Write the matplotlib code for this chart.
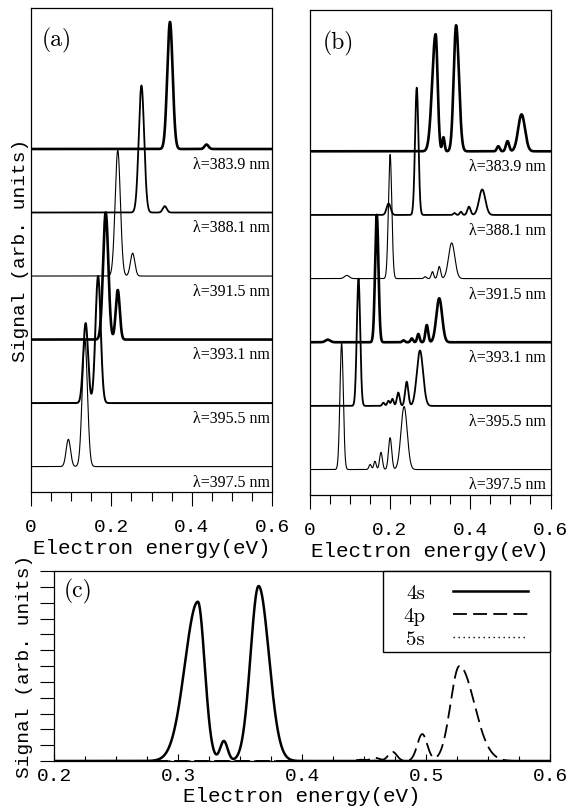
import numpy as np
import matplotlib
matplotlib.use("Agg")
import matplotlib.pyplot as plt
from matplotlib.patches import Rectangle
from matplotlib.ticker import MultipleLocator, FuncFormatter

plt.rcParams['font.family'] = ['Liberation Mono', 'DejaVu Sans Mono']
plt.rcParams['lines.scale_dashes'] = False
SERIF = ['Liberation Serif', 'DejaVu Serif']
CM = ['cmr10', 'DejaVu Serif']

# ---------------- data ----------------
wavelengths = ["383.9", "388.1", "391.5", "393.1", "395.5", "397.5"]
offsets = [5.4, 4.4, 3.4, 2.4, 1.4, 0.4]

# panel (a): peak centres (eV), heights (arb.), widths (sigma, eV)
a_centers = [[0.346, 0.437], [0.275, 0.333], [0.216, 0.253],
             [0.186, 0.216], [0.136, 0.167], [0.093, 0.134]]
a_heights = [[2.0, 0.07], [2.0, 0.10], [1.98, 0.36],
             [2.0, 0.78], [1.26, 2.0], [0.43, 2.0]]
a_widths = [[0.0067, 0.005], [0.0067, 0.005], [0.0065, 0.0055],
            [0.0065, 0.005], [0.006, 0.0065], [0.0055, 0.0065]]
a_lw = [1.9, 1.3, 0.8, 1.9, 1.4, 0.8]

# panel (b)
b_centers = [[0.314, 0.3335, 0.365, 0.470, 0.493, 0.528],
             [0.197, 0.267, 0.361, 0.377, 0.397, 0.430],
             [0.093, 0.2007, 0.288, 0.306, 0.323, 0.354],
             [0.0456, 0.1675, 0.234, 0.2546, 0.271, 0.292, 0.323],
             [0.122, 0.184, 0.1965, 0.2065, 0.221, 0.242, 0.275],
             [0.080, 0.151, 0.163, 0.178, 0.2007, 0.2355]]
b_heights = [[1.84, 0.22, 1.98, 0.08, 0.16, 0.58],
             [0.18, 2.0, 0.03, 0.05, 0.13, 0.40],
             [0.05, 1.95, 0.03, 0.11, 0.19, 0.56],
             [0.04, 2.0, 0.03, 0.06, 0.13, 0.27, 0.69],
             [2.0, 0.05, 0.08, 0.11, 0.21, 0.38, 0.87],
             [1.98, 0.08, 0.13, 0.27, 0.50, 0.99]]
b_widths = [[(0.0085, 0.005), 0.0028, (0.006, 0.007), 0.0035, 0.004, 0.0085],
            [0.005, 0.0042, 0.003, 0.003, 0.004, 0.0078],
            [0.006, 0.0042, 0.003, 0.003, 0.0035, 0.0078],
            [0.006, 0.0042, 0.003, 0.003, 0.003, 0.0035, 0.0072],
            [0.0042, 0.003, 0.003, 0.003, 0.0035, 0.004, 0.0078],
            [0.0042, 0.003, 0.003, 0.0035, 0.004, 0.0078]]
b_lw = [1.9, 1.3, 0.8, 1.9, 1.3, 0.8]

# panel (c)
s4_centers = [0.316, 0.337, 0.365]
s4_heights = [10.06, 1.26, 11.05]
s4_widths = [(0.0105, 0.0055), 0.003, (0.0065, 0.0083)]
p4_centers = [0.447, 0.459, 0.473, 0.497, 0.527]
p4_heights = [0.08, 0.2, 0.58, 1.7, 6.0]
p4_widths = [0.004, 0.0035, 0.0035, 0.004, (0.0072, 0.0119)]
s5_centers = [0.46]
s5_heights = [0.04]
s5_widths = [0.006]


def peak(E, c, h, w):
    wl, wr = (w, w) if np.ndim(w) == 0 else w
    s = np.where(E < c, wl, wr)
    return h * np.exp(-0.5 * ((E - c) / s) ** 2)


def spectrum(E, cs, hs, ws):
    return sum(peak(E, c, h, w) for c, h, w in zip(cs, hs, ws))


W, H = 567, 812
fig = plt.figure(figsize=(W / 100, H / 100), dpi=100)


def rect(l, t, r, b):
    return [l / W, 1 - b / H, (r - l) / W, (b - t) / H]


axa = fig.add_axes(rect(31, 9, 272, 493))
axb = fig.add_axes(rect(309.5, 11, 550.5, 496))
axc = fig.add_axes(rect(54, 572, 550, 762))

E = np.linspace(0, 0.6, 4001)
fmt = FuncFormatter(lambda v, p: "0" if abs(v) < 1e-9 else f"{v:.1f}")

for ax, cs, hs, ws, lws, labx, tag, tagpos in [
        (axa, a_centers, a_heights, a_widths, a_lw, 0.992, "(a)", (0.108, 0.936)),
        (axb, b_centers, b_heights, b_widths, b_lw, 0.981, "(b)", (0.118, 0.934))]:
    for i in range(6):
        y = offsets[i] + spectrum(E, cs[i], hs[i], ws[i])
        ax.plot(E, y, color='k', lw=lws[i], solid_joinstyle='round')
        ax.text(labx, offsets[i] - 0.235, f"λ={wavelengths[i]} nm",
                transform=ax.get_yaxis_transform(), ha='right', va='center',
                fontsize=11.5, family=SERIF)
    ax.set_xlim(0, 0.6)
    ax.set_ylim(0, 7.62)
    ax.set_yticks([])
    ax.xaxis.set_major_locator(MultipleLocator(0.2))
    ax.xaxis.set_minor_locator(MultipleLocator(0.05))
    ax.xaxis.set_major_formatter(fmt)
    ax.tick_params(axis='x', which='major', direction='out', length=10,
                   width=0.8, pad=8.5, labelsize=14)
    ax.tick_params(axis='x', which='minor', direction='out', length=6.5, width=0.8)
    ax.set_xlabel("Electron energy(eV)", fontsize=15, labelpad=2.5)
    for s in ax.spines.values():
        s.set_linewidth(0.9)
    ax.text(tagpos[0], tagpos[1], tag, transform=ax.transAxes, ha='center',
            va='center', fontsize=17, family=CM)

fig.text(21 / W, 1 - 250 / H, "Signal (arb. units)", rotation=90,
         ha='center', va='center', fontsize=14)

# panel (c)
Ec = np.linspace(0.2, 0.6, 4001)
axc.plot(Ec, spectrum(Ec, s4_centers, s4_heights, s4_widths), color='k',
         lw=1.8, label='4s')
axc.plot(Ec, spectrum(Ec, p4_centers, p4_heights, p4_widths), color='k',
         lw=1.3, ls=(0, (10, 4.5)), label='4p')
axc.plot(Ec, spectrum(Ec, s5_centers, s5_heights, s5_widths), color='k',
         lw=1.0, ls=(0, (1, 2.6)), label='5s')
axc.set_xlim(0.2, 0.6)
axc.set_ylim(0, 12)
axc.xaxis.set_major_locator(MultipleLocator(0.1))
axc.xaxis.set_minor_locator(MultipleLocator(0.025))
axc.xaxis.set_major_formatter(fmt)
axc.yaxis.set_major_locator(MultipleLocator(1))
axc.tick_params(axis='x', which='major', direction='in', length=5, width=0.8,
                pad=4.5, labelsize=14)
axc.tick_params(axis='x', which='minor', direction='in', length=3.5, width=0.8)
axc.tick_params(axis='y', which='major', direction='out', length=10, width=0.8,
                labelleft=False)
axc.set_xlabel("Electron energy(eV)", fontsize=15, labelpad=1.5)
for s in axc.spines.values():
    s.set_linewidth(0.9)
axc.text(0.048, 0.9, "(c)", transform=axc.transAxes, ha='center', va='center',
         fontsize=17, family=CM)
fig.text(25 / W, 1 - 666 / H, "Signal (arb. units)", rotation=90,
         ha='center', va='center', fontsize=14)

axc.add_patch(Rectangle((0.663, 0.574), 0.337, 0.426, transform=axc.transAxes,
                        facecolor='white', edgecolor='k', lw=1.0, zorder=4,
                        clip_on=False))
leg = axc.legend(loc='upper right', bbox_to_anchor=(0.956, 0.935),
                 frameon=False, borderpad=0, borderaxespad=0,
                 handlelength=3.6, handletextpad=1.35, labelspacing=0.22,
                 markerfirst=False, prop={'family': CM, 'size': 15})
leg.set_zorder(5)

fig.savefig("out.png", dpi=100)
